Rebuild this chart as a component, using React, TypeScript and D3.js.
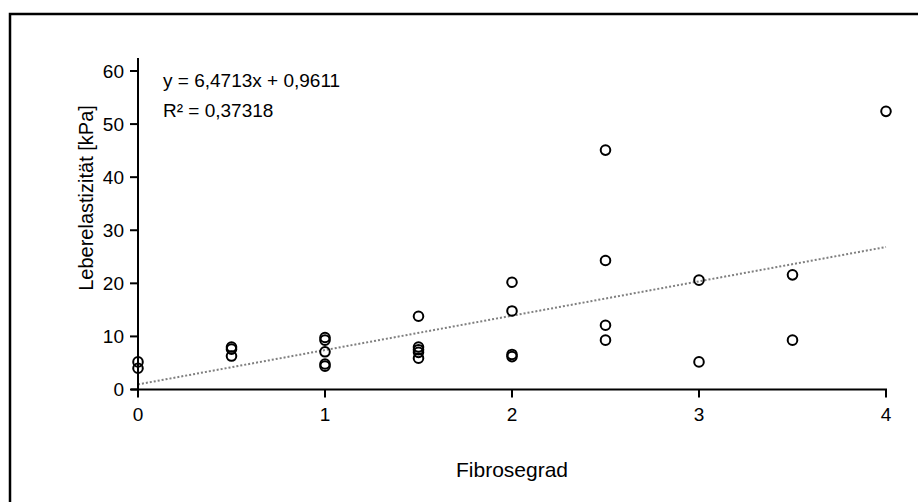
import React from "react";
import * as d3 from "d3";

const fibroseX: number[] = [
  0, 0,
  0.5, 0.5, 0.5,
  1, 1, 1, 1, 1,
  1.5, 1.5, 1.5, 1.5, 1.5,
  2, 2, 2, 2,
  2.5, 2.5, 2.5, 2.5,
  3, 3,
  3.5, 3.5,
  4,
];
const elastY: number[] = [
  5.2, 4.0,
  8.0, 7.6, 6.3,
  9.8, 9.3, 7.1, 4.8, 4.4,
  13.8, 8.0, 7.5, 7.0, 5.9,
  20.2, 14.8, 6.6, 6.2,
  45.1, 24.3, 12.1, 9.3,
  20.6, 5.2,
  21.6, 9.3,
  52.4,
];
const xTicks: number[] = [0, 1, 2, 3, 4];
const yTicks: number[] = [0, 10, 20, 30, 40, 50, 60];
const slope = 6.4713;
const intercept = 0.9611;
const eqLabel = "y = 6,4713x + 0,9611";
const r2Label = "R² = 0,37318";
const xTitle = "Fibrosegrad";
const yTitle = "Leberelastizität [kPa]";

export default function App() {
  const W = 918, H = 502;
  const x = d3.scaleLinear().domain([0, 4]).range([138, 886]);
  const y = d3.scaleLinear().domain([0, 60]).range([389.5, 71]);
  const font = "'Liberation Sans', Arial, sans-serif";
  const line = d3.line<number>().x((d) => x(d)).y((d) => y(slope * d + intercept));
  return (
    <svg width={W} height={H} style={{ position: "absolute", left: 0, top: 0, background: "#fff" }}>
      <rect x={10} y={14} width={940} height={520} fill="#fff" stroke="#000" strokeWidth={2.5} />
      <path d={line([0, 4]) || ""} fill="none" stroke="#7f7f7f" strokeWidth={2} strokeDasharray="2,2" />
      <line x1={x(0)} x2={x(0)} y1={58} y2={397} stroke="#000" strokeWidth={2} />
      {yTicks.map((t) => (
        <g key={"y" + t}>
          <line x1={x(0) - 8} x2={x(0)} y1={y(t)} y2={y(t)} stroke="#000" strokeWidth={2} />
          <text x={124} y={y(t)} dy="0.36em" textAnchor="end" fontFamily={font} fontSize={19}>{t}</text>
        </g>
      ))}
      <line x1={131} x2={x(4) + 1} y1={y(0)} y2={y(0)} stroke="#000" strokeWidth={2} />
      {xTicks.map((t) => (
        <g key={"x" + t}>
          <line x1={x(t)} x2={x(t)} y1={y(0)} y2={y(0) + 8} stroke="#000" strokeWidth={2} />
          <text x={x(t)} y={421} textAnchor="middle" fontFamily={font} fontSize={19}>{t}</text>
        </g>
      ))}
      {fibroseX.map((fx, i) => (
        <circle key={i} cx={x(fx)} cy={y(elastY[i])} r={4.8} fill="none" stroke="#000" strokeWidth={2} />
      ))}
      <text x={163} y={87} fontFamily={font} fontSize={19}>{eqLabel}</text>
      <text x={163} y={117} fontFamily={font} fontSize={19}>{r2Label}</text>
      <text x={512} y={477} textAnchor="middle" fontFamily={font} fontSize={21}>{xTitle}</text>
      <text transform={`translate(93,198) rotate(-90)`} textAnchor="middle" fontFamily={font} fontSize={20}>{yTitle}</text>
    </svg>
  );
}
